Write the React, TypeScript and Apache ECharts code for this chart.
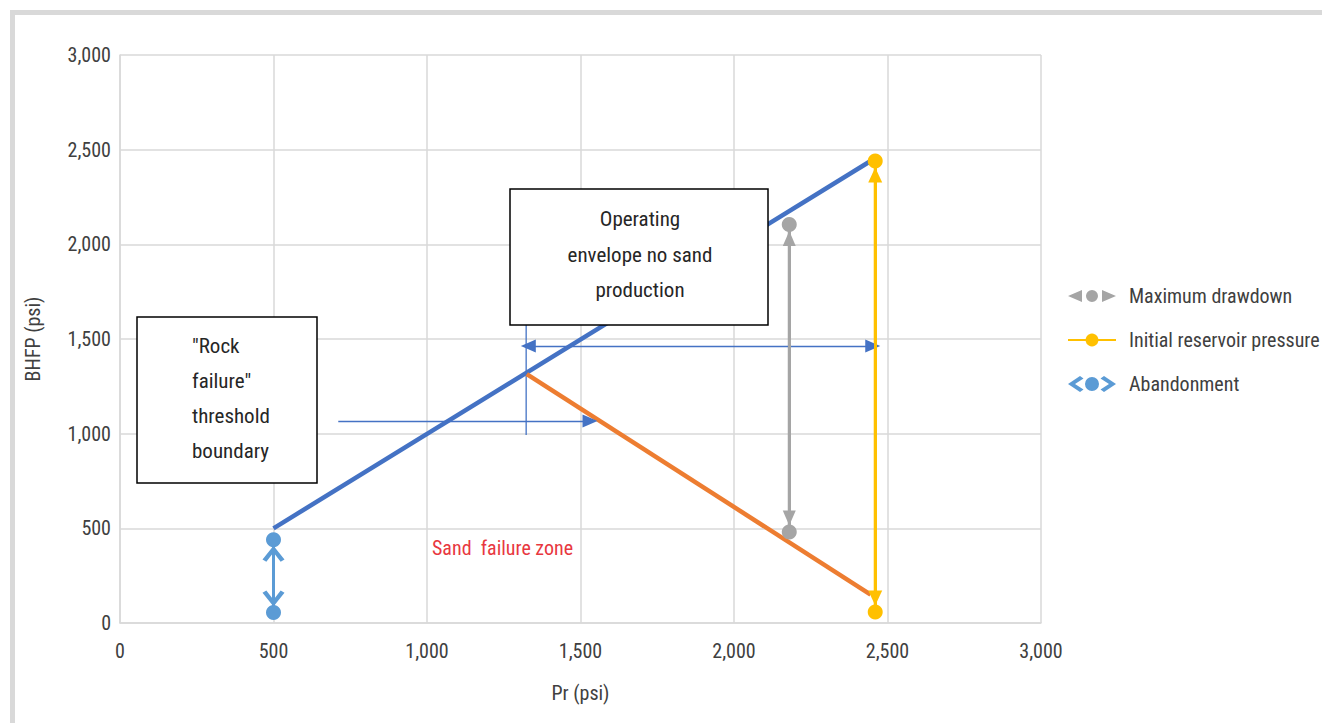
import React, { useEffect, useRef } from "react";
import * as echarts from "echarts";

const axisTicks = [0, 500, 1000, 1500, 2000, 2500, 3000];
const rockFailureLine = [[500, 500], [2445, 2440]];
const sandOnsetLine = [[1325, 1315], [2445, 150]];
const maxDrawdown = [[2180, 2105], [2180, 480]];
const initialPressure = [[2460, 2440], [2460, 58]];
const abandonment = [[500, 440], [500, 55]];
const arrowA = [[711, 1067], [1531, 1067]];
const guideV = [[1323, 1574], [1323, 993]];
const arrowB = [[1330, 1463], [2452, 1463]];

const FONT = "'Liberation Sans Narrow', 'Roboto Condensed', 'Arial Narrow', Roboto, sans-serif";
const TXT = "#404040";

const grayIcon =
  "path://M0,8 L14,2 L14,14 Z M18,8 A6,6 0 1 1 30,8 A6,6 0 1 1 18,8 Z M48,8 L34,2 L34,14 Z";
const blueIcon =
  "path://M0,8 L12,0 L15.5,2.5 L7,8 L15.5,13.5 L12,16 Z M17,8 A7,7 0 1 1 31,8 A7,7 0 1 1 17,8 Z M48,8 L36,0 L32.5,2.5 L41,8 L32.5,13.5 L36,16 Z";
const chevron = "path://M0,12 L10,0 L20,12 L16.5,14 L10,6 L3.5,14 Z";

const fmt = (v: number) => v.toLocaleString("en-US");

export default function App() {
  const ref = useRef<HTMLDivElement>(null);
  useEffect(() => {
    const chart = echarts.init(ref.current!, null, { renderer: "svg" });
    const arrowEnds = (pts: number[][], color: string, symbol: string, size: any, offset: any) => ({
      silent: true,
      symbol: [symbol, symbol],
      symbolSize: size,
      symbolOffset: [offset, offset],
      label: { show: false },
      lineStyle: { color, width: 3, type: "solid" },
      emphasis: { disabled: true },
      data: [[{ coord: pts[0] }, { coord: pts[1] }]],
    });
    const thin = { color: "#4472c4", width: 1.3, type: "solid" };
    chart.setOption({
      animation: false,
      textStyle: { fontFamily: FONT },
      grid: { left: 120, top: 55, width: 921, height: 568, containLabel: false },
      xAxis: {
        type: "value",
        min: 0,
        max: 3000,
        interval: 500,
        name: "Pr (psi)",
        nameLocation: "middle",
        nameGap: 60,
        nameTextStyle: { color: TXT, fontSize: 20, fontFamily: FONT },
        axisLine: { show: true, lineStyle: { color: "#d9d9d9", width: 1.5 } },
        axisTick: { show: false },
        splitLine: { show: true, lineStyle: { color: "#d9d9d9", width: 1.5 } },
        axisLabel: { color: TXT, fontSize: 20, margin: 18, fontFamily: FONT, formatter: (v: number) => (axisTicks.includes(v) ? fmt(v) : "") },
      },
      yAxis: {
        type: "value",
        min: 0,
        max: 3000,
        interval: 500,
        name: "BHFP (psi)",
        nameLocation: "middle",
        nameGap: 77,
        nameRotate: 90,
        nameTextStyle: { color: TXT, fontSize: 20, fontFamily: FONT },
        axisLine: { show: true, lineStyle: { color: "#d9d9d9", width: 1.5 } },
        axisTick: { show: false },
        splitLine: { show: true, lineStyle: { color: "#d9d9d9", width: 1.5 } },
        axisLabel: { color: TXT, fontSize: 20, margin: 9, fontFamily: FONT, formatter: (v: number) => (axisTicks.includes(v) ? fmt(v) : "") },
      },
      legend: {
        orient: "vertical",
        left: 1062,
        top: 281,
        itemWidth: 48,
        itemHeight: 16,
        itemGap: 24,
        textStyle: { color: TXT, fontSize: 20, fontFamily: FONT, padding: [0, 0, 0, 8] },
        selectedMode: false,
        data: [
          { name: "Maximum drawdown", icon: grayIcon },
          { name: "Initial reservoir pressure" },
          { name: "Abandonment", icon: blueIcon },
        ],
      },
      series: [
        {
          name: "Rock failure threshold",
          type: "line",
          data: rockFailureLine,
          symbol: "none",
          lineStyle: { color: "#4472c4", width: 4.5 },
          z: 3,
        },
        {
          name: "Sand production onset",
          type: "line",
          data: sandOnsetLine,
          symbol: "none",
          lineStyle: { color: "#ed7d31", width: 4.5 },
          z: 3,
        },
        {
          name: "Guides",
          type: "line",
          data: guideV,
          symbol: "none",
          lineStyle: thin,
          z: 2,
          markLine: {
            silent: true,
            label: { show: false },
            lineStyle: thin,
            symbolSize: [13, 15],
            emphasis: { disabled: true },
            data: [
              [
                { coord: arrowA[0], symbol: "none" },
                { coord: arrowA[1], symbol: "triangle" },
              ],
              [
                { coord: arrowB[0], symbol: "triangle" },
                { coord: arrowB[1], symbol: "triangle" },
              ],
            ],
          },
        },
        {
          name: "Maximum drawdown",
          type: "line",
          data: maxDrawdown,
          symbol: "circle",
          symbolSize: 15,
          itemStyle: { color: "#a5a5a5" },
          lineStyle: { color: "#a5a5a5", width: 3 },
          z: 4,
          markLine: arrowEnds(maxDrawdown, "#a5a5a5", "triangle", [13, 15], [0, 14]),
        },
        {
          name: "Initial reservoir pressure",
          type: "line",
          data: initialPressure,
          symbol: "circle",
          symbolSize: 15,
          itemStyle: { color: "#ffc000" },
          lineStyle: { color: "#ffc000", width: 3 },
          z: 4,
          markLine: arrowEnds(initialPressure, "#ffc000", "triangle", [14, 15], [0, 14]),
        },
        {
          name: "Abandonment",
          type: "line",
          data: abandonment,
          symbol: "circle",
          symbolSize: 15,
          itemStyle: { color: "#5b9bd5" },
          lineStyle: { color: "#5b9bd5", width: 3 },
          z: 4,
          markLine: arrowEnds(abandonment, "#5b9bd5", chevron, [22, 16], [0, 14]),
        },
      ],
      graphic: [
        {
          type: "rect",
          z: -10,
          silent: true,
          shape: { x: 12.5, y: 12.5, width: 1330, height: 730 },
          style: { fill: "none", stroke: "#d9d9d9", lineWidth: 5 },
        },
        {
          type: "rect",
          z: 100,
          shape: { x: 137, y: 317, width: 180, height: 166 },
          style: { fill: "#ffffff", stroke: "#000000", lineWidth: 1.5 },
        },
        {
          type: "text",
          z: 101,
          x: 192,
          y: 328.5,
          style: {
            text: '"Rock\nfailure"\nthreshold\nboundary',
            fill: "#262626",
            fontSize: 21,
            fontFamily: FONT,
            lineHeight: 35,
            align: "left",
            verticalAlign: "top",
          },
        },
        {
          type: "rect",
          z: 100,
          shape: { x: 510, y: 189, width: 258, height: 136 },
          style: { fill: "#ffffff", stroke: "#000000", lineWidth: 1.5 },
        },
        {
          type: "text",
          z: 101,
          x: 640,
          y: 201.5,
          style: {
            text: "Operating\nenvelope no sand\nproduction",
            fill: "#262626",
            fontSize: 21,
            fontFamily: FONT,
            lineHeight: 35.5,
            align: "center",
            verticalAlign: "top",
          },
        },
        {
          type: "text",
          z: 101,
          x: 432,
          y: 548,
          style: {
            text: "Sand  failure zone",
            fill: "#e8383f",
            fontSize: 20,
            fontFamily: FONT,
            align: "left",
            verticalAlign: "middle",
          },
        },
      ],
    });
    return () => chart.dispose();
  }, []);
  return <div ref={ref} style={{ position: "fixed", left: 0, top: 0, width: 1322, height: 723, background: "#fff" }} />;
}
